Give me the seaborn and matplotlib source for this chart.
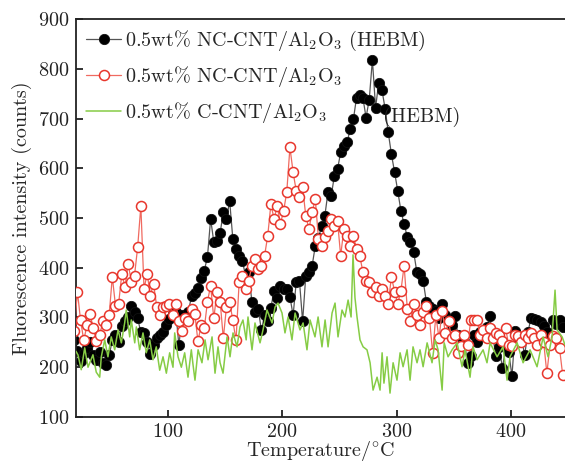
import numpy as np
import pandas as pd
import matplotlib
matplotlib.use("Agg")
import matplotlib.pyplot as plt
import seaborn as sns

# Temperature programme: both NC-CNT samples were read on the same grid (°C)
temp_grid = np.linspace(15.7, 445.0, 156)

# 0.5wt% NC-CNT/Al2O3 after high-energy ball milling (counts)
nc_hebm = [
    240, 255, 232, 212, 228, 238, 250, 225, 214, 230,
    208, 204, 224, 254, 264, 250, 282, 292, 300, 324,
    312, 298, 270, 268, 250, 226, 244, 258, 264, 270,
    284, 296, 308, 312, 244, 304, 300, 312, 344, 350,
    360, 380, 394, 422, 498, 452, 454, 470, 512, 498,
    534, 458, 438, 424, 414, 384, 392, 332, 312, 318,
    274, 304, 292, 320, 354, 340, 364, 358, 358, 342,
    304, 372, 374, 292, 384, 392, 404, 444, 460, 484,
    504, 552, 544, 584, 598, 632, 644, 652, 678, 698,
    742, 748, 742, 702, 738, 818, 722, 772, 758, 720,
    672, 628, 592, 554, 514, 488, 462, 452, 432, 392,
    388, 374, 332, 324, 318, 314, 298, 328, 304, 294,
    284, 302, 264, 260, 252, 208, 222, 264, 250, 270,
    264, 280, 302, 260, 222, 240, 198, 240, 230, 182,
    272, 250, 260, 224, 270, 298, 296, 294, 290, 282,
    270, 260, 294, 286, 294, 280,
]

# 0.5wt% NC-CNT/Al2O3 without milling (counts)
nc_plain = [
    290, 272, 352, 294, 254, 284, 308, 278, 252, 264,
    292, 284, 304, 382, 324, 328, 388, 362, 408, 372,
    384, 442, 524, 358, 388, 344, 368, 322, 304, 322,
    324, 328, 304, 328, 292, 272, 298, 292, 318, 308,
    252, 284, 278, 332, 364, 298, 352, 332, 258, 322,
    332, 294, 254, 372, 384, 358, 374, 404, 418, 398,
    404, 424, 464, 528, 498, 524, 488, 514, 552, 642,
    592, 554, 542, 562, 504, 478, 512, 538, 458, 444,
    462, 474, 498, 484, 494, 424, 478, 464, 444, 464,
    438, 424, 392, 374, 372, 352, 362, 344, 358, 344,
    328, 382, 352, 328, 354, 404, 318, 292, 328, 304,
    284, 312, 324, 298, 228, 304, 258, 314, 268, 292,
    258, 264, 228, 242, 264, 244, 294, 294, 294, 264,
    274, 258, 278, 258, 268, 264, 252, 278, 244, 242,
    264, 262, 250, 264, 258, 268, 258, 244, 264, 250,
    188, 244, 262, 258, 238, 184,
]

# 0.5wt% C-CNT/Al2O3 (HEBM), recorded on a finer grid
c_temp = [
    20.0, 21.7, 24.6, 27.6, 30.5, 34.8, 37.7, 40.7, 42.1, 45.1,
    47.9, 50.8, 53.8, 56.7, 59.6, 62.5, 63.9, 66.9, 68.3, 71.3,
    72.7, 75.6, 78.5, 81.4, 84.4, 87.2, 90.1, 93.1, 96.0, 98.9,
    101.8, 104.7, 106.2, 109.1, 112.0, 114.9, 117.8, 120.7, 122.2, 123.9,
    126.6, 130.0, 132.7, 135.3, 138.8, 141.4, 144.0, 145.8, 148.4, 151.9,
    154.5, 157.1, 160.6, 163.2, 165.8, 168.6, 170.2, 173.7, 176.3, 180.7,
    183.3, 186.8, 191.2, 193.8, 196.4, 199.9, 202.5, 205.2, 208.6, 211.3,
    215.6, 218.3, 221.7, 224.4, 228.7, 231.4, 234.8, 237.5, 240.1, 243.6,
    246.2, 248.8, 252.3, 254.9, 257.6, 260.2, 261.9, 263.6, 265.4, 268.0,
    270.7, 274.1, 276.8, 279.4, 282.9, 285.5, 287.3, 288.9, 291.6, 294.2,
    296.9, 300.3, 303.0, 305.6, 309.1, 311.7, 314.3, 317.8, 320.4, 323.1,
    326.6, 330.9, 333.6, 336.2, 339.7, 341.5, 344.9, 348.4, 352.8, 357.1,
    359.7, 364.1, 366.7, 370.2, 375.5, 378.9, 381.6, 387.7, 392.9, 396.4,
    399.0, 405.2, 410.4, 416.5, 422.6, 427.9, 432.2, 435.7, 438.3, 440.1,
    444.5, 447.0,
]
c_hebm = [
    232, 225, 195, 239, 200, 225, 190, 180, 221, 255,
    221, 261, 235, 275, 249, 289, 315, 261, 295, 249,
    281, 235, 269, 229, 255, 215, 241, 194, 221, 188,
    229, 200, 269, 221, 200, 229, 180, 235, 205, 174,
    235, 209, 255, 215, 261, 188, 241, 209, 188, 261,
    221, 269, 241, 281, 295, 255, 301, 235, 289, 249,
    275, 315, 289, 321, 329, 309, 269, 301, 255, 309,
    275, 289, 235, 295, 261, 301, 241, 295, 241, 309,
    329, 261, 315, 301, 335, 301, 426, 340, 301, 255,
    241, 235, 209, 154, 180, 154, 229, 168, 221, 148,
    209, 174, 229, 201, 235, 174, 241, 209, 235, 201,
    249, 209, 255, 235, 154, 249, 221, 235, 249, 201,
    235, 180, 241, 215, 235, 209, 249, 221, 241, 174,
    221, 249, 209, 235, 201, 261, 221, 261, 355, 275,
    261, 245,
]

labels = [
    "0.5wt% NC-CNT/Al$_2$O$_3$ (HEBM)",
    "0.5wt% NC-CNT/Al$_2$O$_3$",
    "0.5wt% C-CNT/Al$_2$O$_3$",
]

df_hebm = pd.DataFrame({"T": temp_grid, "I": nc_hebm})
df_plain = pd.DataFrame({"T": temp_grid, "I": nc_plain})
df_c = pd.DataFrame({"T": c_temp, "I": c_hebm})

sns.set_theme(style="white")
plt.rcParams.update({
    "font.family": "serif",
    "font.serif": ["cmr10", "DejaVu Serif"],
    "mathtext.fontset": "cm",
    "axes.unicode_minus": False,
    "axes.formatter.use_mathtext": True,
})

fig = plt.figure(figsize=(5.65, 4.66), dpi=100)
ax = fig.add_axes([0.1345, 0.1052, 0.8655, 0.854])

sns.lineplot(data=df_hebm, x="T", y="I", ax=ax, sort=False, errorbar=None,
             color="#555555", linewidth=0.9, marker="o", markersize=7.4,
             markerfacecolor="black", markeredgecolor="#111111",
             markeredgewidth=0.6, label=labels[0], zorder=2)
sns.lineplot(data=df_plain, x="T", y="I", ax=ax, sort=False, errorbar=None,
             color="#f06a60", linewidth=0.9, marker="o", markersize=7.2,
             markerfacecolor="white", markeredgecolor="#e8362c",
             markeredgewidth=1.1, label=labels[1], zorder=3)
sns.lineplot(data=df_c, x="T", y="I", ax=ax, sort=False, errorbar=None,
             color="#86cc45", linewidth=1.1, label=labels[2], zorder=4)

ax.set_xlim(20, 447)
ax.set_ylim(100, 900)
ax.set_xticks([100, 200, 300, 400])
ax.set_yticks(range(100, 901, 100))
ax.set_xlabel(r"Temperature/$^{\circ}$C", fontsize=14.5, labelpad=-1)
ax.set_ylabel("Fluorescence intensity (counts)", fontsize=14.5, labelpad=4)
ax.tick_params(axis="both", which="major", direction="in", length=5,
               width=1.3, labelsize=14.5, colors="#222222", pad=5,
               top=False, right=False, bottom=True, left=True)
ax.tick_params(axis="x", pad=4)
for side in ("left", "bottom", "top"):
    ax.spines[side].set_linewidth(1.3)
    ax.spines[side].set_color("#222222")
ax.spines["right"].set_visible(False)

leg = ax.legend(loc="upper left", bbox_to_anchor=(0.0, 1.0), frameon=False,
                fontsize=14.5, handlelength=1.75, handletextpad=0.2,
                labelspacing=0.55, borderaxespad=0.3, borderpad=0.2)
ax.text(0.628, 0.754, "(HEBM)", transform=ax.transAxes, fontsize=14.5,
        ha="left", va="center", color="#222222")

fig.savefig("out.png", dpi=100)
